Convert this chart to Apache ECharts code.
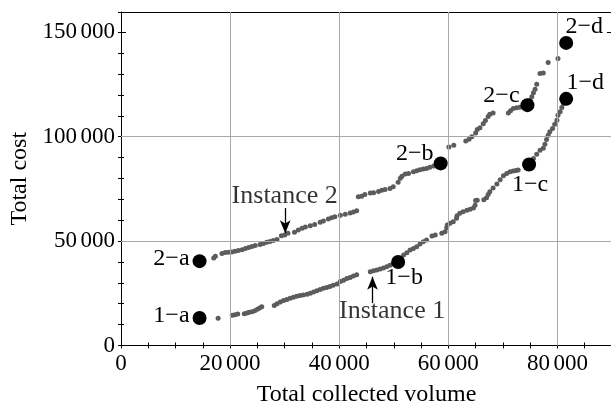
<!DOCTYPE html>
<html>
<head>
<meta charset="utf-8">
<script src="https://cdn.jsdelivr.net/npm/echarts@6/dist/echarts.min.js"></script>
<style>
html,body{margin:0;padding:0;background:#fff;}
#chart{width:611px;height:404px;}
</style>
</head>
<body>
<div id="chart"></div>
<script>
// ---- data ----
const inst1X = [17800,20400,20900,21400,22600,23100,23500,24000,24500,25000,25400,25800,28100,28600,29200,29800,30400,31000,31600,32200,32800,33400,34100,34700,35300,35900,36500,37100,37700,38300,38900,39600,40200,40800,41400,42000,42600,43200,45700,46300,46900,47500,48100,48700,49300,49900,51800,52400,53000,53600,54200,54800,55400,56000,57000,57600,58800,59400,59700,59800,60300,60900,61500,61600,62100,62700,63400,64000,64600,64900,65000,65300,66500,67000,67300,67600,68200,68900,69500,70100,70700,71300,71900,72400,72800,75600,76200,76800,77400,77700,78000,78300,78600,79100,79500,79900,80100,80500,80800,81100];
const inst1Y = [13000,14500,14700,15100,15200,15600,15900,16200,16700,17300,17900,18600,19200,20000,20800,21500,22000,22600,23100,23600,23900,24200,24500,25000,25600,26200,26800,27400,27800,28300,28800,29400,30600,31300,32100,32600,33300,33900,35300,35800,36100,36600,37100,37700,38400,39300,43300,44400,45700,46500,47300,48600,49700,50500,52400,52900,53700,54500,56400,57700,58500,59200,60900,62100,63300,64000,64800,65300,65900,67200,69400,69600,69800,70800,72300,73600,75400,77300,79400,81300,82400,83200,83600,83800,84000,89600,91600,93500,94400,96400,98700,100700,102300,103900,106000,107900,110300,111900,114000,115900];

const inst2X = [17000,17300,18500,19100,19700,20300,20900,21500,22200,22800,23400,24000,24600,25500,26100,26700,27300,27900,28600,29400,30000,30600,31800,32500,33200,33800,34700,35500,36500,37100,38000,38600,39200,40200,41100,42000,42600,43200,43500,44100,44700,45700,46300,47200,47800,48400,49300,49900,50800,51200,51500,52100,52700,53600,54200,54800,55400,56000,56600,57300,60100,61000,63200,63800,64300,65000,65300,65800,66400,66800,67300,67600,68200,71000,71400,71900,72500,73100,75000,75300,75600,75900,76200,76800,77400,78300,80100];
const inst2Y = [41900,42700,44100,44500,44700,44800,45100,45500,45900,46400,46900,47400,47900,48400,48900,49400,49800,50300,50800,52500,52900,53700,54200,55300,56100,56700,57300,58000,59000,59600,60600,61200,61600,62400,62900,63500,63900,64500,71200,71500,72300,73000,73200,73700,74400,74700,75200,76000,78200,80100,81100,82100,82400,83200,83700,84100,84500,84800,85400,85900,95100,95900,97900,98800,100000,101700,103400,104300,106200,107700,109600,110700,111300,111300,112400,113500,113900,114100,117500,119100,121000,122700,125100,130200,130500,135500,137400];

const keyNames = ['1\u2212a','1\u2212b','1\u2212c','1\u2212d','2\u2212a','2\u2212b','2\u2212c','2\u2212d'];
const keyX = [14400,50800,74800,81600,14400,58600,74500,81600];
const keyY = [13200,40000,86700,118100,40400,87200,115100,144900];

const noteNames = ['Instance 1','Instance 2'];
const noteX = [49700,30000];
const noteY = [16500,71500];
const arrowX = [46100,30100];
const arrowFromY = [20300,65800];
const arrowToY = [32900,53800];

const gridX = [20000,40000,60000,80000];
const gridY = [50000,100000];

const xTicksMajor = 20000, xTicksMinor = 5000;
const yTicksMajor = 50000, yTicksMinor = 10000;
const xMin = 0, xMax = 90000, yMin = 0, yMax = 159700;

// ---- styles ----
const FONT = 'Liberation Serif';
const keyLabelStyle = [
  {position:'left', distance:3, align:'right', offset:[0,-2]},
  {position:'inside', offset:[6,16]},
  {position:'inside', offset:[1,20]},
  {position:'inside', offset:[19,-16]},
  {position:'left', distance:3, align:'right', offset:[0,-2]},
  {position:'inside', offset:[-26,-10]},
  {position:'inside', offset:[-26,-9]},
  {position:'inside', offset:[18,-16]}
];

function fmt(v){
  const s = String(Math.round(v));
  const groups = [];
  for (let i = s.length; i > 0; i -= 3) groups.unshift(s.slice(Math.max(0, i - 3), i));
  return groups.join('{s| }');
}

function axis(kind, pos, interval, opts){
  const isX = kind === 'x';
  return Object.assign({
    type:'value', gridIndex:0, position:pos,
    min: isX ? xMin : yMin, max: isX ? xMax : yMax, interval: interval,
    axisLine:{show:false},
    axisTick:{show:true, inside:true, length:3, lineStyle:{color:'#000', width:1}},
    axisLabel:{show:false},
    splitLine:{show:false}
  }, opts || {});
}

const tickLabel = {show:true, color:'#000', fontFamily:FONT, fontSize:23, formatter:fmt, showMaxLabel:false,
  rich:{s:{fontSize:14, fontFamily:FONT}}};

const chart = echarts.init(document.getElementById('chart'), null, {renderer:'canvas'});
const option = {
  animation:false,
  backgroundColor:'#fff',
  grid:{left:121, top:12, width:491, height:333.5, containLabel:false, outerBoundsMode:'none'},
  xAxis:[
    axis('x','bottom',xTicksMajor,{
      axisLine:{show:true, onZero:false, lineStyle:{color:'#000', width:1}},
      axisTick:{show:true, inside:true, length:5, lineStyle:{color:'#000'}},
      axisLabel:Object.assign({margin:7}, tickLabel),
      name:'Total collected volume', nameLocation:'middle', nameGap:37,
      nameTextStyle:{color:'#000', fontFamily:FONT, fontSize:24}
    }),
    axis('x','bottom',xTicksMinor),
    axis('x','top',xTicksMajor,{
      axisLine:{show:true, onZero:false, lineStyle:{color:'#000', width:1}},
      axisTick:{show:true, inside:true, length:5, lineStyle:{color:'#000'}}
    }),
    axis('x','top',xTicksMinor)
  ],
  yAxis:[
    axis('y','left',yTicksMajor,{
      axisLine:{show:true, onZero:false, lineStyle:{color:'#000', width:1}},
      axisTick:{show:true, inside:true, length:5, lineStyle:{color:'#000'}},
      axisLabel:Object.assign({margin:6}, tickLabel),
      name:'Total cost', nameLocation:'middle', nameGap:84,
      nameTextStyle:{color:'#000', fontFamily:FONT, fontSize:24}
    }),
    axis('y','left',yTicksMinor),
    axis('y','right',yTicksMajor,{
      axisLine:{show:true, onZero:false, lineStyle:{color:'#000', width:1}},
      axisTick:{show:true, inside:true, length:5, lineStyle:{color:'#000'}}
    }),
    axis('y','right',yTicksMinor)
  ],
  series:[
    {
      type:'scatter', name:'grid', data:[], xAxisIndex:0, yAxisIndex:0, z:1, silent:true,
      markLine:{silent:true, symbol:'none', animation:false, label:{show:false},
        lineStyle:{color:'#a9a9a9', width:1, type:'solid'},
        emphasis:{disabled:true},
        data: gridX.map(v=>({xAxis:v})).concat(gridY.map(v=>({yAxis:v})))}
    },
    {
      type:'scatter', name:'Instance 1', xAxisIndex:0, yAxisIndex:0, z:3,
      data: inst1X.map((x,i)=>[x, inst1Y[i]]),
      symbolSize:5, itemStyle:{color:'#5c5c5c', opacity:1}
    },
    {
      type:'scatter', name:'Instance 2', xAxisIndex:0, yAxisIndex:0, z:3,
      data: inst2X.map((x,i)=>[x, inst2Y[i]]),
      symbolSize:5, itemStyle:{color:'#5c5c5c', opacity:1}
    },
    {
      type:'scatter', name:'key', xAxisIndex:0, yAxisIndex:0, z:4,
      data: keyX.map((x,i)=>({value:[x, keyY[i]], name:keyNames[i], label:keyLabelStyle[i]})),
      symbolSize:14, itemStyle:{color:'#000', opacity:1},
      label:{show:true, formatter:'{b}', color:'#000', fontFamily:FONT, fontSize:24, align:'center', verticalAlign:'middle'}
    },
    {
      type:'scatter', name:'notes', xAxisIndex:0, yAxisIndex:0, z:5, silent:true,
      data: noteX.map((x,i)=>({value:[x, noteY[i]], name:noteNames[i]})),
      symbolSize:1, itemStyle:{color:'rgba(0,0,0,0)'},
      label:{show:true, position:'inside', formatter:'{b}', color:'#000', fontFamily:FONT, fontSize:26},
      markLine:{silent:true, animation:false, symbol:['none','arrow'], symbolSize:[8,13],
        label:{show:false}, lineStyle:{color:'#000', width:1.3, type:'solid'},
        emphasis:{disabled:true},
        data: arrowX.map((x,i)=>[{coord:[x, arrowFromY[i]]},{coord:[x, arrowToY[i]]}])}
    }
  ]
};
chart.setOption(option);
</script>
</body>
</html>
